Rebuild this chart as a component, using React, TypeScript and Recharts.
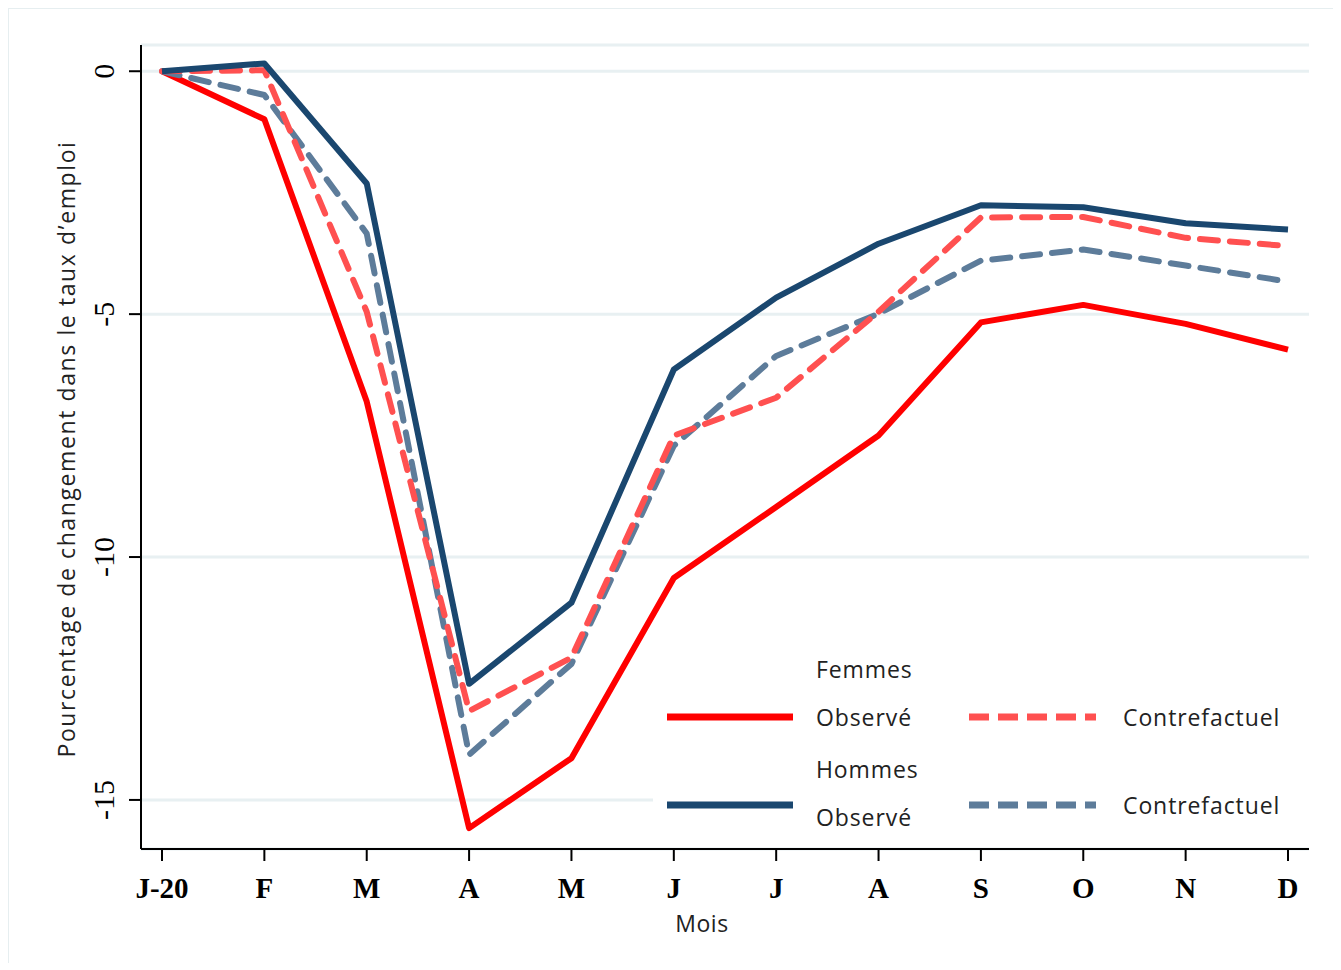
import React from "react";
import { LineChart, Line, XAxis, YAxis, CartesianGrid } from "recharts";

const months = ["J-20", "F", "M", "A", "M", "J", "J", "A", "S", "O", "N", "D"];
const femmesObserve = [0, -0.99, -6.8, -15.58, -14.14, -10.43, -8.97, -7.5, -5.17, -4.81, -5.2, -5.73];
const femmesContre = [0, 0.02, -4.95, -13.17, -12.07, -7.5, -6.72, -4.95, -3.01, -3.0, -3.43, -3.6];
const hommesObserve = [0, 0.16, -2.31, -12.61, -10.94, -6.14, -4.66, -3.55, -2.76, -2.8, -3.13, -3.26];
const hommesContre = [0, -0.49, -3.34, -14.07, -12.2, -7.71, -5.86, -4.99, -3.9, -3.67, -4.0, -4.33];
const yTicks = [0, -5, -10, -15];

const data = months.map((m, i) => ({
  idx: i,
  fo: femmesObserve[i],
  fc: femmesContre[i],
  ho: hommesObserve[i],
  hc: hommesContre[i],
}));

const RED = "#ff0000";
const RED_DASH = "#ff5050";
const NAVY = "#1a476f";
const GREY_DASH = "#5d7c9a";
const SANS = "'Open Sans', 'Noto Sans', sans-serif";
const SERIF = "'Liberation Serif', 'Times New Roman', serif";

const XTick = ({ x, y, payload }: any) => (
  <text x={x} y={y + 25} textAnchor="middle" dominantBaseline="central"
    fontFamily={SERIF} fontWeight="bold" fontSize={29} fill="#000">
    {months[payload.value]}
  </text>
);

const YTick = ({ x, y, payload }: any) => (
  <text x={x - 23} y={y} textAnchor="middle" dominantBaseline="central"
    transform={`rotate(-90, ${x - 23}, ${y})`}
    fontFamily={SERIF} fontSize={30} fill="#000">
    {payload.value}
  </text>
);

// legend drawn over the plot, on a white box like the original
const LegendBox = () => (
  <svg width={656} height={205} style={{ position: "absolute", left: 644, top: 630, display: "block" }}>
    <rect x={0} y={0} width={656} height={205} fill="#fff" />
    <g fontFamily={SANS} fontSize={23} fill="#222" letterSpacing={0.9}>
      <text x={163} y={30} dominantBaseline="central">Femmes</text>
      <text x={163} y={78} dominantBaseline="central">Observé</text>
      <text x={470} y={78} dominantBaseline="central">Contrefactuel</text>
      <text x={163} y={130} dominantBaseline="central">Hommes</text>
      <text x={163} y={178} dominantBaseline="central">Observé</text>
      <text x={470} y={166} dominantBaseline="central">Contrefactuel</text>
    </g>
    <line x1={14} x2={140} y1={78} y2={78} stroke={RED} strokeWidth={7} />
    <line x1={316} x2={443} y1={78} y2={78} stroke={RED_DASH} strokeWidth={7} strokeDasharray="20 9" />
    <line x1={14} x2={140} y1={166} y2={166} stroke={NAVY} strokeWidth={7} />
    <line x1={316} x2={443} y1={166} y2={166} stroke={GREY_DASH} strokeWidth={7} strokeDasharray="20 9" />
  </svg>
);

export default function App() {
  return (
    <div style={{ position: "relative", width: 1325, height: 955, borderTop: "1px solid #e6eef0", borderLeft: "1px solid #e6eef0", boxSizing: "border-box", background: "#fff" }}>
      <LineChart width={1325} height={955} data={data} margin={{ top: 36, right: 25, left: 0, bottom: 0 }}>
        <CartesianGrid horizontal vertical={false} stroke="#e8f0f2" strokeWidth={3} />
        <XAxis
          dataKey="idx"
          type="number"
          domain={[0, 11]}
          ticks={months.map((_, i) => i)}
          interval={0}
          padding={{ left: 21, right: 21 }}
          height={115}
          stroke="#000"
          strokeWidth={2}
          tickSize={12}
          tick={<XTick />}
          label={{ value: "Mois", position: "insideBottom", offset: 32, dx: -23, fontFamily: SANS, fontSize: 23, fill: "#222", letterSpacing: 0.5 }}
        />
        <YAxis
          type="number"
          domain={[-16.01, 0.54]}
          ticks={yTicks}
          allowDataOverflow
          width={132}
          stroke="#000"
          strokeWidth={2}
          tickSize={12}
          tick={<YTick />}
          label={{ value: "Pourcentage de changement dans le taux d\u2019emploi", angle: -90, position: "insideLeft", offset: 58, dy: 2, fontFamily: SANS, fontSize: 23, fill: "#222", letterSpacing: 1.6, style: { textAnchor: "middle" } }}
        />
        <Line dataKey="fo" stroke={RED} strokeWidth={6} dot={false} strokeLinejoin="round" isAnimationActive={false} />
        <Line dataKey="hc" stroke={GREY_DASH} strokeWidth={6} dot={false} strokeDasharray="18 12" strokeLinecap="round" strokeLinejoin="round" isAnimationActive={false} />
        <Line dataKey="fc" stroke={RED_DASH} strokeWidth={6} dot={false} strokeDasharray="18 12" strokeLinecap="round" strokeLinejoin="round" isAnimationActive={false} />
        <Line dataKey="ho" stroke={NAVY} strokeWidth={6} dot={false} strokeLinejoin="round" isAnimationActive={false} />
      </LineChart>
      <LegendBox />
    </div>
  );
}
